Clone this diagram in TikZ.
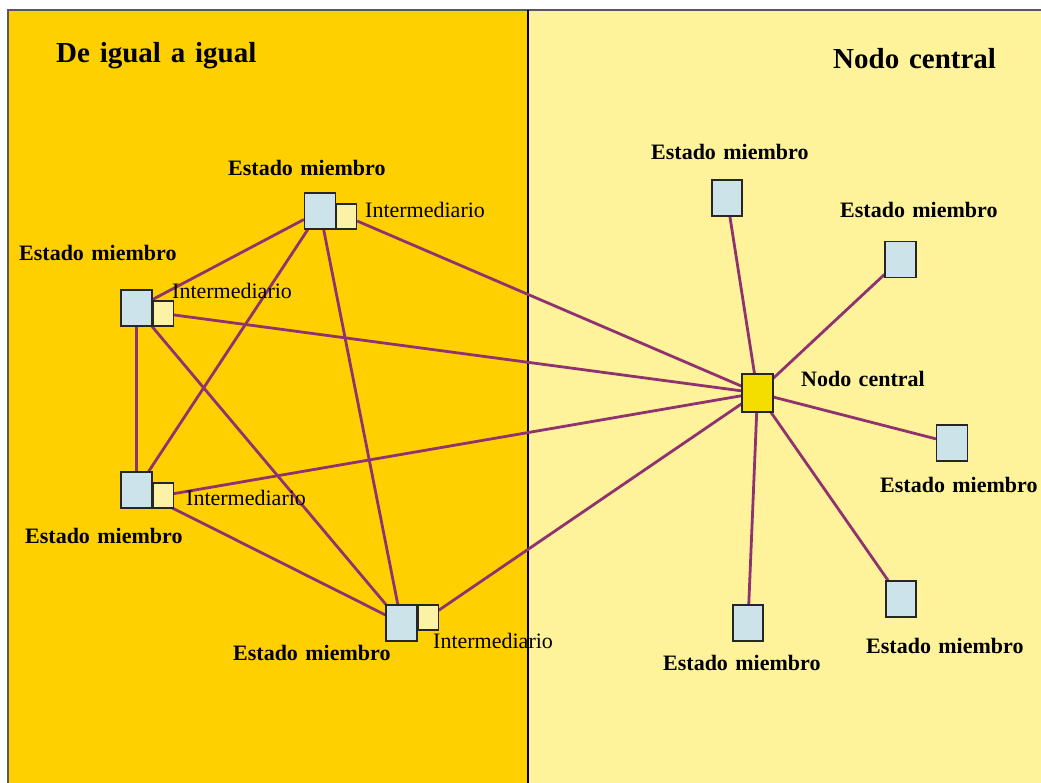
\documentclass[tikz,border=0pt]{standalone}
\usepackage{fontspec}
\setmainfont{Liberation Serif}[WordSpace=1.35]
\usetikzlibrary{positioning,backgrounds}

\definecolor{peergold}{RGB}{255,208,0}
\definecolor{hubpale}{RGB}{254,243,155}
\definecolor{linkplum}{RGB}{145,50,112}
\definecolor{stateblue}{RGB}{205,227,234}
\definecolor{interpale}{RGB}{251,242,168}
\definecolor{hubyellow}{RGB}{243,222,0}

\pgfdeclarelayer{links}
\pgfsetlayers{background,links,main}

\begin{document}
\begin{tikzpicture}[
    x=1pt, y=-1pt,
    % --- node styles ---
    state/.style  = {rectangle, draw=black!85, line width=1.1pt,
                     fill=stateblue, inner sep=0pt,
                     minimum width=31pt, minimum height=36pt},
    inter/.style  = {rectangle, draw=black!85, line width=1.1pt,
                     fill=interpale, inner sep=0pt,
                     minimum width=20pt, minimum height=25pt},
    hub/.style    = {state, fill=hubyellow, minimum height=38pt},
    link/.style   = {draw=linkplum, line width=2.8pt},
    statelbl/.style = {font=\bfseries\fontsize{22}{24}\selectfont,
                       inner sep=0pt, anchor=base west},
    interlbl/.style = {font=\fontsize{22}{24}\selectfont,
                       inner sep=0pt, anchor=base west},
    titlelbl/.style = {font=\bfseries\fontsize{29}{31}\selectfont,
                       inner sep=0pt, anchor=base west},
]
\useasboundingbox (0,0) rectangle (1041,783);

%============ PANELS ============
\begin{scope}[on background layer]
  \fill[peergold] (8,10) rectangle (528,783);
  \fill[hubpale]  (528,10) rectangle (1041,783);
  \draw[black!65, line width=1.2pt] (8,783) -- (8,10) -- (1041,10);
  \draw[black, line width=1.8pt] (528,10) -- (528,783);
\end{scope}

\node (ttlpeer) [titlelbl] at (56,63)  {De igual a igual};
\node (ttlhub)  [titlelbl] at (833,69) {Nodo central};

%============ PEER-TO-PEER STATES ============
\node (stA) [state] at (320,211)   {};
\node (stB) [state] at (136.5,308) {};
\node (stC) [state] at (136.5,490) {};
\node (stD) [state] at (401.5,623) {};

\node (inA) [inter, anchor=south west] at (stA.south east) {};
\node (inB) [inter, anchor=south west] at (stB.south east) {};
\node (inC) [inter, anchor=south west] at (stC.south east) {};
\node (inD) [inter, anchor=north west] at (stD.north east) {};

\node (lblA) [statelbl] at (228,176) {Estado miembro};
\node (lblB) [statelbl] at (19,261)  {Estado miembro};
\node (lblC) [statelbl] at (25,543)  {Estado miembro};
\node (lblD) [statelbl] at (233,660) {Estado miembro};

\node (ilblA) [interlbl] at (365,218) {Intermediario};
\node (ilblB) [interlbl] at (172,299) {Intermediario};
\node (ilblC) [interlbl] at (186,505) {Intermediario};
\node (ilblD) [interlbl] at (433,648) {Intermediario};

%============ CENTRAL NODE ============
\node (hubN) [hub] at (757.5,393) {};
\node (hublbl) [statelbl] at (801,386) {Nodo central};

\node (stR1) [state, minimum width=30pt] at (727,198)   {};
\node (stR2) [state] at (900.5,259.5) {};
\node (stR3) [state] at (952,443)     {};
\node (stR4) [state, minimum width=30pt] at (901,599)   {};
\node (stR5) [state, minimum width=30pt] at (748,623)   {};

\node (lblR1) [statelbl] at (651,160) {Estado miembro};
\node (lblR2) [statelbl] at (840,218) {Estado miembro};
\node (lblR3) [statelbl] at (880,492) {Estado miembro};
\node (lblR4) [statelbl] at (866,653) {Estado miembro};
\node (lblR5) [statelbl] at (663,670) {Estado miembro};

%============ LINKS ============
\begin{pgfonlayer}{links}
  % mesh between member states
  \foreach \a/\b in {stA/stB, stA/stC, stA/stD, stB/stC, stB/stD, stC/stD}
    \draw[link] (\a) -- (\b);
  % intermediaries to the central node
  \foreach \a in {inA, inB, inC, inD}
    \draw[link] (\a) -- (hubN);
  % star around the central node
  \foreach \b in {stR1, stR2, stR3, stR4, stR5}
    \draw[link] (hubN) -- (\b);
\end{pgfonlayer}

\end{tikzpicture}
\end{document}
